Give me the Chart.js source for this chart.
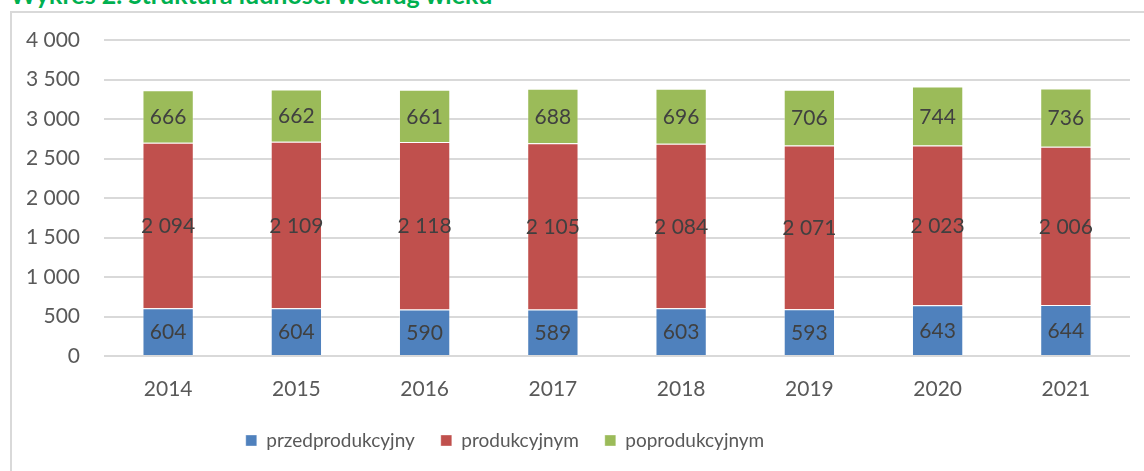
<!DOCTYPE html>
<html>
<head>
<meta charset="utf-8">
<script src="https://cdn.jsdelivr.net/npm/chart.js@4"></script>
<style>
  html, body { margin: 0; padding: 0; background: #fff; overflow: hidden; }
  #wrap { position: relative; width: 1144px; height: 471px; overflow: hidden; }
  #title { position: absolute; left: 10px; top: -21px; font: bold 25px "Lato", "Open Sans", sans-serif; color: #00b050; white-space: nowrap; }
  #frame { position: absolute; left: 10px; top: 11px; width: 1150px; height: 480px; border: 2px solid #d9d9d9; box-sizing: border-box; }
  #chart { position: absolute; left: 0; top: 0; }
</style>
</head>
<body>
<div id="wrap">
  <div id="title">Wykres 2. Struktura ludności według wieku</div>
  <div id="frame"></div>
  <canvas id="chart" width="1144" height="471"></canvas>
</div>
<script>
const years = ['2014', '2015', '2016', '2017', '2018', '2019', '2020', '2021'];
const przed = [604, 604, 590, 589, 603, 593, 643, 644];
const prod = [2094, 2109, 2118, 2105, 2084, 2071, 2023, 2006];
const poprod = [666, 662, 661, 688, 696, 706, 744, 736];
const seriesNames = ['przedprodukcyjny', 'produkcyjnym', 'poprodukcyjnym'];
const colors = ['#4f81bd', '#c0504d', '#9bbb59'];

const FONT = 'Lato, "Liberation Sans", sans-serif';

function fmt(v) {
        return String(v).replace(/\B(?=(\d{3})+(?!\d))/g, ' ');
}

// labels in the middle of each segment
const segLabels = {
        id: 'segLabels',
        afterDatasetsDraw(chart) {
                const ctx = chart.ctx;
                ctx.save();
                ctx.font = '21px ' + FONT;
                ctx.fillStyle = '#404040';
                ctx.textAlign = 'center';
                ctx.textBaseline = 'middle';
                chart.data.datasets.forEach(function(ds, i) {
                        const meta = chart.getDatasetMeta(i);
                        meta.data.forEach(function(bar, j) {
                                const mid = (bar.y + bar.base) / 2;
                                ctx.fillText(fmt(ds.data[j]), bar.x, mid + 1);
                        });
                });
                ctx.restore();
        }
};

// the legend sits a bit left of centre in the original
const legendShift = {
        id: 'legendShift',
        afterLayout(chart) {
                chart.legend.right -= 130;
        }
};

const data = {
        labels: years,
        datasets: [przed, prod, poprod].map(function(arr, i) {
                return {
                        label: seriesNames[i],
                        data: arr,
                        backgroundColor: colors[i],
                        borderColor: 'rgba(255,255,255,0.35)',
                        borderWidth: 1,
                        barPercentage: 0.4,
                        categoryPercentage: 1.0
                };
        })
};

const config = {
        type: 'bar',
        data: data,
        options: {
                responsive: false,
                animation: false,
                layout: { padding: { left: 10, right: 14, top: 40, bottom: 11 } },
                plugins: {
                        title: { display: false },
                        tooltip: { enabled: false },
                        legend: {
                                position: 'bottom',
                                labels: {
                                        boxWidth: 11,
                                        boxHeight: 11,
                                        padding: 26,
                                        color: '#595959',
                                        font: { family: FONT, size: 19 }
                                }
                        }
                },
                scales: {
                        x: {
                                stacked: true,
                                grid: { display: false },
                                border: { display: false },
                                afterFit: function(scale) { scale.height = 49; },
                                ticks: { color: '#595959', font: { family: FONT, size: 21 }, padding: 13 }
                        },
                        y: {
                                stacked: true,
                                min: 0,
                                max: 4000,
                                afterFit: function(scale) { scale.width = 94; },
                                grid: { color: '#d9d9d9', lineWidth: 2, drawTicks: false },
                                border: { display: false },
                                ticks: {
                                        stepSize: 500,
                                        color: '#595959',
                                        padding: 24,
                                        font: { family: FONT, size: 21 },
                                        callback: function(v) { return fmt(v); }
                                }
                        }
                }
        },
        plugins: [segLabels, legendShift]
};

const myChart = new Chart(document.getElementById('chart'), config);
</script>
</body>
</html>
